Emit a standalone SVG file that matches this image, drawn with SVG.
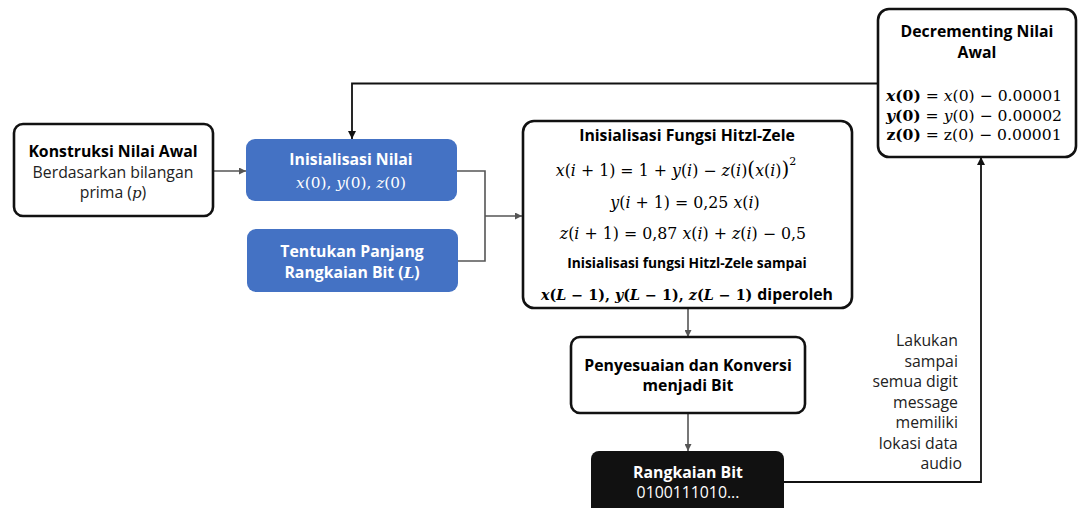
<svg xmlns="http://www.w3.org/2000/svg" width="1078" height="508" viewBox="0 0 1078 508">
<style>
.bw{fill:#fff;stroke:#111;stroke-width:2.6}
.bb{fill:#4472C4;stroke:none}
.bk{fill:#111;stroke:none}
.s{font-family:"Open Sans","Noto Sans","Liberation Sans",sans-serif;text-anchor:middle}
.b{font-weight:bold}
.m{font-family:"DejaVu Serif","Liberation Serif",serif;text-anchor:middle}
.i{font-style:italic}
.c{fill:none;stroke:#555;stroke-width:1.6}
.ck{fill:none;stroke:#111;stroke-width:1.8}
</style>
<defs>
<marker id="a" viewBox="0 0 10 10" refX="10" refY="5" markerWidth="7" markerHeight="7" markerUnits="userSpaceOnUse" orient="auto"><path d="M0,0L10,5L0,10z" fill="#555"/></marker>
<marker id="ak" viewBox="0 0 10 10" refX="10" refY="5" markerWidth="8" markerHeight="8" markerUnits="userSpaceOnUse" orient="auto"><path d="M0,0L10,5L0,10z" fill="#111"/></marker>
</defs>
<rect width="1078" height="508" fill="#fff"/>
<g id="connectors">
<path class="c" d="M213,171H246" marker-end="url(#a)"/>
<path class="c" d="M457,171H485V261H458"/>
<path class="c" d="M485,216H522" marker-end="url(#a)"/>
<path class="ck" d="M878,83.5H352V139" marker-end="url(#ak)"/>
<path class="c" d="M688,308V337" marker-end="url(#a)"/>
<path class="c" d="M688,413V451" marker-end="url(#a)"/>
<path class="ck" d="M784,482H981V157" marker-end="url(#ak)"/>
</g>
<g id="konstruksi">
<rect class="bw" x="14" y="124" width="199" height="92" rx="9"/>
<text class="s b" x="113" y="157" font-size="15.8">Konstruksi Nilai Awal</text>
<text class="s" x="113" y="178" font-size="15.8" fill="#222">Berdasarkan bilangan</text>
<text class="s" x="113" y="198" font-size="15.8" fill="#222">prima (<tspan font-family="DejaVu Serif,serif" font-style="italic" font-size="15">p</tspan>)</text>
</g>
<g id="inisialisasi-nilai">
<rect class="bb" x="246" y="139" width="211" height="62" rx="9"/>
<text class="s b" x="351" y="165" font-size="15.8" fill="#fff">Inisialisasi Nilai</text>
<text class="m" x="351" y="188" font-size="15.3" fill="#fff"><tspan class="i">x</tspan>(0), <tspan class="i">y</tspan>(0), <tspan class="i">z</tspan>(0)</text>
</g>
<g id="tentukan">
<rect class="bb" x="247" y="229" width="211" height="63" rx="9"/>
<text class="s b" x="352" y="257" font-size="15.8" fill="#fff">Tentukan Panjang</text>
<text class="s b" x="352" y="278" font-size="15.8" fill="#fff">Rangkaian Bit (<tspan font-family="DejaVu Serif,serif" font-style="italic" font-size="15">L</tspan>)</text>
</g>
<g id="hitzl">
<rect class="bw" x="523" y="121" width="329" height="187" rx="11"/>
<text class="s b" x="687" y="141" font-size="15.8">Inisialisasi Fungsi Hitzl-Zele</text>
<text class="m" x="676" y="176" font-size="15.8"><tspan class="i">x</tspan>(<tspan class="i">i</tspan> + 1) = 1 + <tspan class="i">y</tspan>(<tspan class="i">i</tspan>) − <tspan class="i">z</tspan>(<tspan class="i">i</tspan>)<tspan font-size="20">(</tspan><tspan class="i">x</tspan>(<tspan class="i">i</tspan>)<tspan font-size="20">)</tspan><tspan font-size="11" dy="-11">2</tspan></text>
<text class="m" x="685" y="208" font-size="15.8"><tspan class="i">y</tspan>(<tspan class="i">i</tspan> + 1) = 0,25 <tspan class="i">x</tspan>(<tspan class="i">i</tspan>)</text>
<text class="m" x="683" y="239" font-size="15.8"><tspan class="i">z</tspan>(<tspan class="i">i</tspan> + 1) = 0,87 <tspan class="i">x</tspan>(<tspan class="i">i</tspan>) + <tspan class="i">z</tspan>(<tspan class="i">i</tspan>) − 0,5</text>
<text class="s b" x="687" y="268" font-size="13.8">Inisialisasi fungsi Hitzl-Zele sampai</text>
<text class="m b" x="687" y="300" font-size="14.3"><tspan class="i">x</tspan>(<tspan class="i">L</tspan> − 1), <tspan class="i">y</tspan>(<tspan class="i">L</tspan> − 1), <tspan class="i">z</tspan>(<tspan class="i">L</tspan> − 1) <tspan font-family="Open Sans,Noto Sans,sans-serif" font-size="15.8">diperoleh</tspan></text>
</g>
<g id="decrementing">
<rect class="bw" x="878" y="9" width="198" height="148" rx="11"/>
<text class="s b" x="977" y="37" font-size="15.8">Decrementing Nilai</text>
<text class="s b" x="977" y="58" font-size="15.8">Awal</text>
<text class="m" x="974" y="101" font-size="15.6"><tspan class="b i">x</tspan><tspan class="b">(0)</tspan> = <tspan class="i">x</tspan>(0) − 0.00001</text>
<text class="m" x="974" y="121" font-size="15.6"><tspan class="b i">y</tspan><tspan class="b">(0)</tspan> = <tspan class="i">y</tspan>(0) − 0.00002</text>
<text class="m" x="974" y="140" font-size="15.6"><tspan class="b">z(0)</tspan> = z(0) − 0.00001</text>
</g>
<g id="penyesuaian">
<rect class="bw" x="571" y="337" width="234" height="76" rx="9"/>
<text class="s b" x="688" y="371" font-size="15.8">Penyesuaian dan Konversi</text>
<text class="s b" x="688" y="391" font-size="15.8">menjadi Bit</text>
</g>
<g id="rangkaian">
<rect class="bk" x="591" y="451" width="193" height="70" rx="8"/>
<text class="s b" x="688" y="478" font-size="15.8" fill="#fff">Rangkaian Bit</text>
<text class="s" x="688" y="498" font-size="15.8" fill="#fff">0100111010...</text>
</g>
<g id="label">
<text class="s" font-size="15.8" fill="#222" style="text-anchor:end">
<tspan x="962" y="346">Lakukan</tspan>
<tspan x="962" y="366.5">sampai</tspan>
<tspan x="962" y="387">semua digit</tspan>
<tspan x="962" y="407.5">message</tspan>
<tspan x="962" y="428">memiliki</tspan>
<tspan x="962" y="448.5">lokasi data</tspan>
<tspan x="962" y="469">audio</tspan>
</text>
</g>
</svg>
